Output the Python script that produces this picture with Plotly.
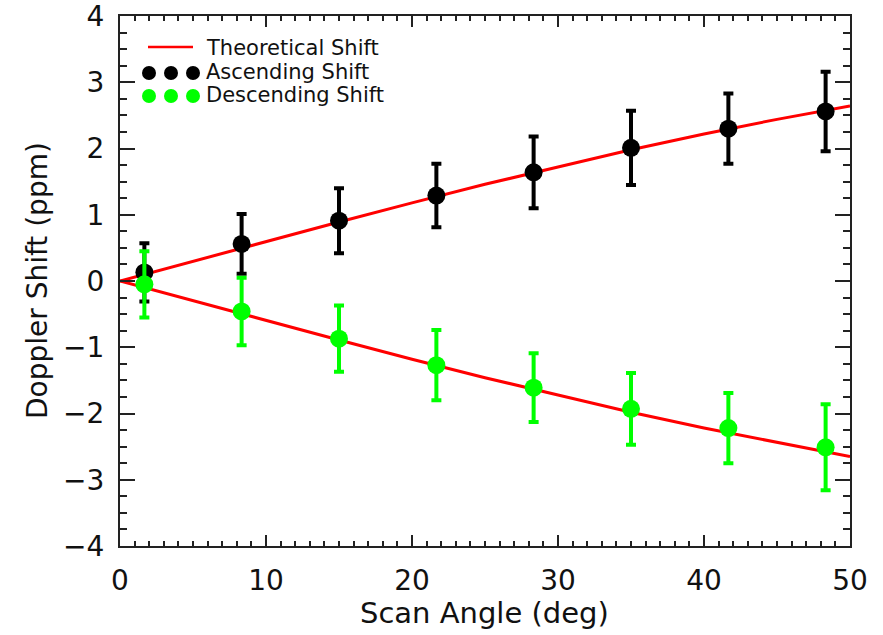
import plotly.graph_objects as go

# ---- data ----
scan_angle = [1.67, 8.33, 15.0, 21.67, 28.33, 35.0, 41.67, 48.33]
asc_shift = [0.13, 0.56, 0.91, 1.29, 1.64, 2.01, 2.30, 2.56]
asc_err = [0.44, 0.45, 0.49, 0.48, 0.54, 0.56, 0.53, 0.60]
desc_shift = [-0.05, -0.46, -0.87, -1.27, -1.61, -1.93, -2.22, -2.51]
desc_err = [0.50, 0.51, 0.50, 0.53, 0.52, 0.54, 0.53, 0.65]

theory_angle = [0, 5, 10, 15, 20, 25, 30, 35, 40, 45, 50]
theory_up = [0.0, 0.30, 0.60, 0.89, 1.18, 1.46, 1.72, 1.98, 2.22, 2.44, 2.64]
theory_down = [0.0, -0.30, -0.60, -0.89, -1.18, -1.46, -1.72, -1.98, -2.22, -2.44, -2.65]

x_ticks = [0, 10, 20, 30, 40, 50]
y_ticks = [-4, -3, -2, -1, 0, 1, 2, 3, 4]

legend_labels = ["Theoretical Shift", "Ascending Shift", "Descending Shift"]

RED = "#ff0000"
GREEN = "#00ff00"
BLACK = "#000000"
FONT = "DejaVu Sans"

fig = go.Figure()

fig.add_trace(go.Scatter(x=theory_angle, y=theory_up, mode="lines",
                         line=dict(color=RED, width=3), showlegend=False))
fig.add_trace(go.Scatter(x=theory_angle, y=theory_down, mode="lines",
                         line=dict(color=RED, width=3), showlegend=False))

fig.add_trace(go.Scatter(
    x=scan_angle, y=asc_shift, mode="markers",
    marker=dict(color=BLACK, size=18),
    error_y=dict(type="data", array=asc_err, color=BLACK, thickness=4, width=5),
    showlegend=False))
fig.add_trace(go.Scatter(
    x=scan_angle, y=desc_shift, mode="markers",
    marker=dict(color=GREEN, size=18),
    error_y=dict(type="data", array=desc_err, color=GREEN, thickness=4, width=5),
    showlegend=False))

# plot area geometry (pixels)
L, R, T, B = 120, 850, 16, 546
W, H = R - L, B - T


def px(xp):
    return (xp - L) / W


def py(yp):
    return (B - yp) / H


shapes = []
annotations = []

# custom legend
shapes.append(dict(type="line", xref="paper", yref="paper",
                   x0=px(148), x1=px(193), y0=py(47), y1=py(47),
                   line=dict(color=RED, width=2.5)))
for yy, col in [(73, BLACK), (96, GREEN)]:
    for xx in [149, 171, 193]:
        shapes.append(dict(type="circle", xref="paper", yref="paper",
                           xsizemode="pixel", ysizemode="pixel",
                           xanchor=px(xx), yanchor=py(yy),
                           x0=-7, x1=7, y0=-7, y1=7,
                           fillcolor=col, line=dict(width=0)))
for lbl, yy in zip(legend_labels, [48, 72, 95]):
    annotations.append(dict(text=lbl, xref="paper", yref="paper",
                            x=px(204), y=py(yy), xanchor="left", yanchor="middle",
                            showarrow=False, font=dict(family=FONT, size=21, color="#111")))

# axis titles
annotations.append(dict(text="Doppler Shift (ppm)", xref="paper", yref="paper",
                        x=px(37), y=py(281), textangle=-90, xanchor="center",
                        yanchor="middle", showarrow=False,
                        font=dict(family=FONT, size=28, color="#111")))
annotations.append(dict(text="Scan Angle (deg)", xref="paper", yref="paper",
                        x=px(484), y=py(613), xanchor="center", yanchor="middle",
                        showarrow=False, font=dict(family=FONT, size=29, color="#111")))

axis_common = dict(showgrid=False, zeroline=False, showline=True, linecolor="#222",
                   linewidth=2, mirror="ticks", ticks="inside", tickcolor="#222",
                   tickwidth=2, ticklabeloverflow="allow", automargin=False,
                   tickfont=dict(family=FONT, size=28, color="#111"))

fig.update_xaxes(range=[0, 50], tickvals=x_ticks, ticklen=11,
                 minor=dict(dtick=1, ticklen=5, ticks="inside", tickcolor="#222",
                            tickwidth=1.5),
                 ticklabelstandoff=8, **axis_common)
fig.update_yaxes(range=[-4, 4], tickvals=y_ticks, ticklen=15,
                 minor=dict(dtick=0.25, ticklen=7, ticks="inside", tickcolor="#222",
                            tickwidth=1.5),
                 ticklabelstandoff=8, **axis_common)

fig.update_layout(width=883, height=635,
                  margin=dict(l=L, r=883 - R, t=T, b=635 - B, autoexpand=False),
                  paper_bgcolor="white", plot_bgcolor="white",
                  shapes=shapes, annotations=annotations, showlegend=False)

fig.write_html("out.html")
